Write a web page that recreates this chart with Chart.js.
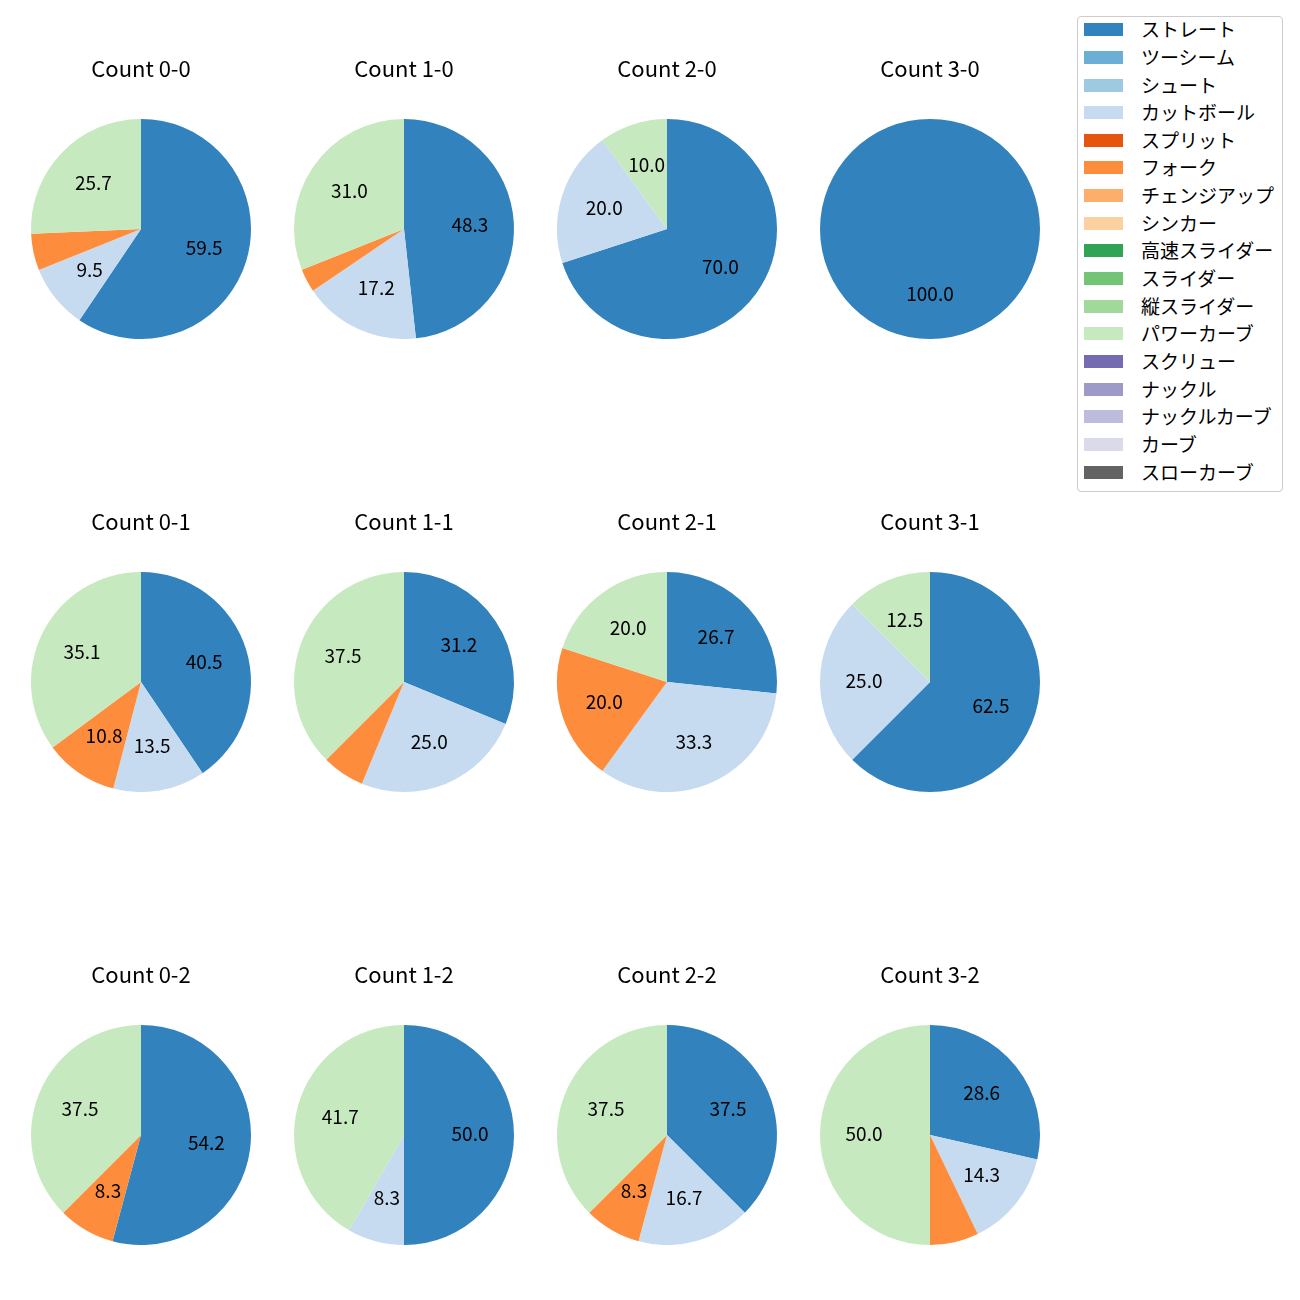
<!DOCTYPE html>
<html>
<head>
<meta charset="utf-8">
<script src="https://cdn.jsdelivr.net/npm/chart.js@4.4.1/dist/chart.umd.min.js"></script>
<style>
    body { margin: 0; background: #fff; width: 1300px; height: 1300px; position: relative; overflow: hidden; font-family: "Noto Sans CJK JP", sans-serif; }
    canvas.pie { position: absolute; }
    #legend { position: absolute; left: 1077px; top: 16px; width: 206px; height: 476px; border: 1px solid #cccccc; border-radius: 4px; box-sizing: border-box; background: #fff; }
    .lg-patch { position: absolute; left: 6px; width: 39px; height: 13px; }
    .lg-text { position: absolute; left: 63px; height: 24px; line-height: 24px; font-size: 19px; color: #000; white-space: nowrap; }
</style>
</head>
<body>
<div id="legend"></div>
<script>
// pitch types in legend order, with tab20c colours
const pitchTypes = ['ストレート', 'ツーシーム', 'シュート', 'カットボール', 'スプリット', 'フォーク', 'チェンジアップ', 'シンカー',
    '高速スライダー', 'スライダー', '縦スライダー', 'パワーカーブ', 'スクリュー', 'ナックル', 'ナックルカーブ', 'カーブ', 'スローカーブ'];
const pitchColors = ['#3182bd', '#6baed6', '#9ecae1', '#c6dbef', '#e6550d', '#fd8d3c', '#fdae6b', '#fdd0a2',
    '#31a354', '#74c476', '#a1d99b', '#c7e9c0', '#756bb1', '#9e9ac8', '#bcbddc', '#dadaeb', '#636363'];

// ball-strike counts, row by row
const countLabels = ['0-0', '1-0', '2-0', '3-0', '0-1', '1-1', '2-1', '3-1', '0-2', '1-2', '2-2', '3-2'];

// pitches thrown per count (only these four types were used)
const straight   = [44, 14, 7, 2, 15, 5, 4, 5, 13, 6, 9, 4];
const cutter     = [7, 5, 2, 0, 5, 4, 5, 2, 0, 1, 4, 2];
const forkball   = [4, 1, 0, 0, 4, 1, 3, 0, 2, 0, 2, 1];
const powerCurve = [19, 9, 1, 0, 13, 6, 3, 1, 9, 5, 9, 7];

const usedSeries = { 'ストレート': straight, 'カットボール': cutter, 'フォーク': forkball, 'パワーカーブ': powerCurve };

const colX = [140.5, 403.6, 666.7, 929.7];
const rowY = [228.7, 681.7, 1134.7];
const FONT = '"Noto Sans CJK JP", "Noto Sans", sans-serif';

// one decimal, ties to even (31.25 -> 31.2)
function fmt1(v) {
    const x = v * 10;
    const f = Math.floor(x);
    let n = Math.abs(x - f - 0.5) < 1e-9 ? (f % 2 === 0 ? f : f + 1) : Math.round(x);
    return (n / 10).toFixed(1);
}

// percentage labels at 0.6 of the radius, hidden for small wedges
const pctLabels = {
    id: 'pctLabels',
    afterDatasetsDraw(chart) {
        const ctx = chart.ctx;
        const ds = chart.data.datasets[0];
        const total = ds.data.reduce((a, b) => a + b, 0);
        chart.getDatasetMeta(0).data.forEach((arc, i) => {
            const pct = ds.data[i] / total * 100;
            if (pct < 8) return;
            const p = arc.getProps(['x', 'y', 'startAngle', 'endAngle', 'outerRadius'], true);
            const mid = (p.startAngle + p.endAngle) / 2;
            const r = p.outerRadius * 0.6;
            ctx.save();
            ctx.fillStyle = '#000';
            ctx.font = '19px ' + FONT;
            ctx.textAlign = 'center';
            ctx.textBaseline = 'middle';
            ctx.fillText(fmt1(pct), p.x + r * Math.cos(mid), p.y + r * Math.sin(mid) - 1);
            ctx.restore();
        });
    }
};

countLabels.forEach((label, k) => {
    const cx = colX[k % 4], cy = rowY[Math.floor(k / 4)];
    const canvas = document.createElement('canvas');
    canvas.className = 'pie';
    canvas.width = 262;
    canvas.height = 299;
    canvas.style.left = Math.round(cx - 131) + 'px';
    canvas.style.top = Math.round(cy - 189) + 'px';
    document.body.appendChild(canvas);

    const values = pitchTypes.map(t => usedSeries[t] ? usedSeries[t][k] : 0);

    new Chart(canvas, {
        type: 'pie',
        data: {
            labels: pitchTypes,
            datasets: [{ data: values, backgroundColor: pitchColors, borderWidth: 0 }]
        },
        options: {
            responsive: false, animation: false,
            layout: { padding: 0 },
            plugins: {
                legend: { display: false },
                tooltip: { enabled: false },
                title: {
                    display: true, text: 'Count ' + label, color: '#000',
                    font: { family: FONT, size: 22, weight: 'normal' },
                    padding: { top: 15, bottom: 37.6 }
                }
            }
        },
        plugins: [pctLabels]
    });
});

// legend
const legend = document.getElementById('legend');
pitchTypes.forEach((t, i) => {
    const cy = 12.7 + i * 27.65;
    legend.innerHTML += `<div class="lg-patch" style="top:${cy - 6.5}px;background:${pitchColors[i]}"></div>` +
        `<div class="lg-text" style="top:${cy - 12.5}px">${t}</div>`;
});
</script>
</body>
</html>
